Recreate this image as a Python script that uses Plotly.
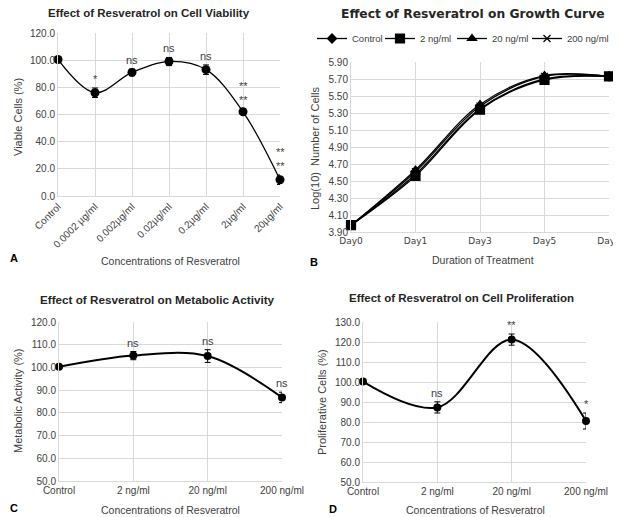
import plotly.graph_objects as go

# page is 621x517; the html body has an 8px margin, so the figure itself is 613x509
PAGE_W, PAGE_H, OFF = 621, 517, 8
W, H = PAGE_W - OFF, PAGE_H - OFF

# ---------------- data ----------------
cats_a = ["Control", "0.0002 µg/ml", "0.002µg/ml", "0.02µg/ml", "0.2µg/ml", "2µg/ml", "20µg/ml"]
vals_a = [100.5, 76.0, 91.0, 99.0, 93.0, 62.0, 12.0]
err_a = [1.0, 3.5, 2.5, 3.0, 3.5, 2.0, 3.5]
sig_a = ["", "*", "ns", "ns", "ns", "**<br>**", "**<br>**"]

days_b = ["Day0", "Day1", "Day3", "Day5", "Day7"]
series_b = ["Control", "2 ng/ml", "20 ng/ml", "200 ng/ml"]
control_b = [3.98, 4.58, 5.35, 5.70, 5.73]
ng2_b = [3.98, 4.56, 5.34, 5.69, 5.73]
ng20_b = [3.98, 4.63, 5.40, 5.74, 5.73]
ng200_b = [3.98, 4.61, 5.38, 5.73, 5.73]

cats_cd = ["Control", "2 ng/ml", "20 ng/ml", "200 ng/ml"]
vals_c = [100.3, 105.2, 105.0, 86.8]
err_c = [0.5, 1.8, 2.8, 2.3]
sig_c = ["", "ns", "ns", "ns"]

vals_d = [100.2, 87.3, 121.2, 80.5]
err_d = [0.5, 2.8, 2.8, 4.0]
sig_d = ["", "ns", "**", "*"]

# ---------------- style ----------------
FONT = "Liberation Sans, Arial, sans-serif"
TICK = dict(family=FONT, size=10, color="#404040")
GRID = "#d9d9d9"


def px_x(p):
    return (p - OFF) / W


def px_y(p):
    return 1 - (p - OFF) / H


fig = go.Figure()

layout = dict(
    width=W, height=H, margin=dict(l=0, r=0, t=0, b=0, autoexpand=False),
    paper_bgcolor="white", plot_bgcolor="white", showlegend=True,
    font=dict(family=FONT, color="#404040"),
)


def axis_common():
    return dict(showgrid=True, gridcolor=GRID, gridwidth=1, zeroline=False,
                showline=True, linecolor=GRID, linewidth=1, ticks="",
                tickfont=TICK, mirror=False, automargin=False,
                ticklabeloverflow="allow")


# Panel A
xa = axis_common()
xa.update(domain=[px_x(58), px_x(280)], range=[0, len(cats_a) - 1],
          tickvals=list(range(len(cats_a))), ticktext=cats_a, tickangle=-45,
          anchor="y")
ya = axis_common()
ya.update(domain=[px_y(196), px_y(33)], range=[0, 120], dtick=20,
          tickformat=".1f", anchor="x")
layout["xaxis"] = xa
layout["yaxis"] = ya
fig.add_trace(go.Scatter(
    x=list(range(len(cats_a))), y=vals_a, mode="lines+markers",
    line=dict(color="black", width=1.3, shape="spline", smoothing=1.0),
    marker=dict(color="black", size=9, symbol="circle"),
    error_y=dict(type="data", array=err_a, color="black", thickness=1, width=3),
    xaxis="x", yaxis="y", showlegend=False, cliponaxis=False))

# Panel B
xb = axis_common()
xb.update(domain=[px_x(351), px_x(609)], range=[0, len(days_b) - 1],
          tickvals=list(range(len(days_b))), ticktext=days_b, anchor="y2",
          tickfont=dict(family="DejaVu Sans, sans-serif", size=9, color="#404040"))
yb = axis_common()
yb.update(domain=[px_y(232), px_y(62)], range=[3.90, 5.90], dtick=0.2,
          tick0=3.9, tickformat=".2f", anchor="x2")
layout["xaxis2"] = xb
layout["yaxis2"] = yb
symbols = ["diamond", "square", "triangle-up", "x-thin-open"]
sizes = [7, 9, 8, 7]
legend_ids = ["legend", "legend2", "legend3", "legend4"]
legend_px = [312, 380, 452, 527]
LEG_FONT = dict(family=FONT, size=9.5, color="#404040")
for name, vals, sym, sz, lg, lx in zip(series_b, [control_b, ng2_b, ng20_b, ng200_b],
                                       symbols, sizes, legend_ids, legend_px):
    fig.add_trace(go.Scatter(
        x=list(range(len(days_b))), y=vals, mode="lines+markers", name=name,
        line=dict(color="black", width=1.3, shape="spline", smoothing=1.0),
        marker=dict(color="black", size=sz, symbol=sym,
                    line=dict(color="black", width=1.2)),
        xaxis="x2", yaxis="y2", cliponaxis=False, legend=lg))
    layout[lg] = dict(orientation="h", x=px_x(lx), y=px_y(24), xanchor="left",
                      yanchor="top", font=LEG_FONT, tracegroupgap=0,
                      bgcolor="rgba(0,0,0,0)")

# Panel C
xc = axis_common()
xc.update(domain=[px_x(59), px_x(282)], range=[0, len(cats_cd) - 1],
          tickvals=list(range(len(cats_cd))), ticktext=cats_cd, anchor="y3")
yc = axis_common()
yc.update(domain=[px_y(481), px_y(322)], range=[50, 120], dtick=10,
          tickformat=".1f", anchor="x3")
layout["xaxis3"] = xc
layout["yaxis3"] = yc
fig.add_trace(go.Scatter(
    x=list(range(len(cats_cd))), y=vals_c, mode="lines+markers",
    line=dict(color="black", width=2, shape="spline", smoothing=1.0),
    marker=dict(color="black", size=8, symbol="circle"),
    error_y=dict(type="data", array=err_c, color="black", thickness=1, width=3),
    xaxis="x3", yaxis="y3", showlegend=False, cliponaxis=False))

# Panel D
xd = axis_common()
xd.update(domain=[px_x(363), px_x(586)], range=[0, len(cats_cd) - 1],
          tickvals=list(range(len(cats_cd))), ticktext=cats_cd, anchor="y4")
yd = axis_common()
yd.update(domain=[px_y(482), px_y(322)], range=[50, 130], dtick=10,
          tickformat=".1f", anchor="x4")
layout["xaxis4"] = xd
layout["yaxis4"] = yd
fig.add_trace(go.Scatter(
    x=list(range(len(cats_cd))), y=vals_d, mode="lines+markers",
    line=dict(color="black", width=2, shape="spline", smoothing=1.0),
    marker=dict(color="black", size=8, symbol="circle"),
    error_y=dict(type="data", array=err_d, color="black", thickness=1, width=3),
    xaxis="x4", yaxis="y4", showlegend=False, cliponaxis=False))

ann = []


def txt(x, y, text, size=12, color="#404040", bold=False, angle=0, family=FONT):
    t = f"<b>{text}</b>" if bold else text
    ann.append(dict(xref="paper", yref="paper", x=px_x(x), y=px_y(y), text=t,
                    showarrow=False, xanchor="center", yanchor="middle",
                    textangle=angle, font=dict(family=family, size=size, color=color)))


# titles
txt(149, 13, "Effect of Resveratrol on Cell Viability", size=11.5, color="#262626", bold=True)
txt(473, 14, "Effect of Resveratrol on Growth Curve", size=12.3, color="#262626", bold=True,
    family="DejaVu Sans, sans-serif")
txt(157, 299, "Effect of Resveratrol on Metabolic Activity", size=11.7, color="#262626", bold=True)
txt(461, 298, "Effect of Resveratrol on Cell Proliferation", size=11.5, color="#262626", bold=True)

# axis titles
txt(170, 261, "Concentrations of Resveratrol", size=10.5)
txt(483, 260, "Duration of Treatment", size=10.5)
txt(171, 510, "Concentrations of Resveratrol", size=10.5)
txt(475, 510, "Concentrations of Resveratrol", size=10.5)
txt(18, 117, "Viable Cells (%)", size=11, angle=-90)
txt(315, 148, "Log(10)  Number of Cells", size=11, angle=-90)
txt(18, 401, "Metabolic Activity (%)", size=11, angle=-90)
txt(322, 402, "Proliferative Cells (%)", size=11, angle=-90)

# panel letters
txt(14, 258, "A", size=11, color="black", bold=True)
txt(314, 262, "B", size=11, color="black", bold=True)
txt(14, 508, "C", size=11, color="black", bold=True)
txt(333, 509, "D", size=11, color="black", bold=True)

# significance marks
for axx, axy, vals, errs, sig in [("x", "y", vals_a, err_a, sig_a),
                                  ("x3", "y3", vals_c, err_c, sig_c),
                                  ("x4", "y4", vals_d, err_d, sig_d)]:
    for i, (v, e, s) in enumerate(zip(vals, errs, sig)):
        if not s:
            continue
        ann.append(dict(xref=axx, yref=axy, x=i, y=v + e, text=s, showarrow=False,
                        xanchor="center", yanchor="bottom", yshift=1,
                        font=dict(family=FONT, size=11, color="#404040")))

layout["annotations"] = ann
fig.update_layout(**layout)
fig.write_html("out.html")
